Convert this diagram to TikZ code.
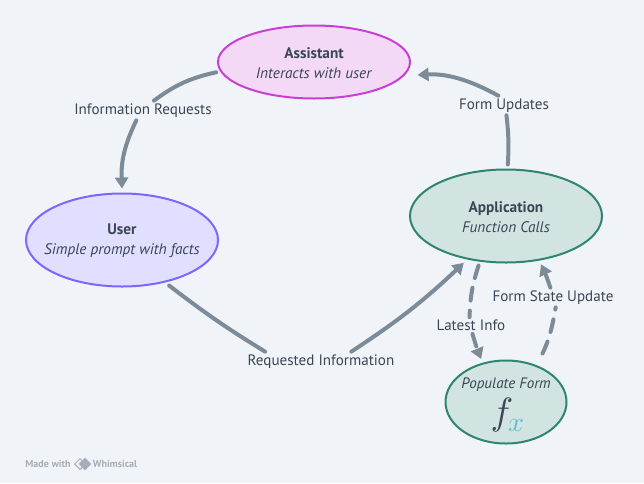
\documentclass[tikz,border=0pt]{standalone}
\usepackage{fontspec}
\setmainfont{PT Sans}
\usepackage{tikz}
\usetikzlibrary{arrows.meta}
\usetikzlibrary{shapes.geometric}
\usepackage{xcolor}
\definecolor{ColBack}{RGB}{240,244,248}
\definecolor{ColText}{RGB}{58,70,83}
\definecolor{ColLine}{RGB}{125,139,153}
\definecolor{ColA}{RGB}{201,63,214}
\definecolor{ColAFill}{RGB}{243,217,245}
\definecolor{ColU}{RGB}{124,102,255}
\definecolor{ColUFill}{RGB}{224,223,255}
\definecolor{ColG}{RGB}{46,133,112}
\definecolor{ColGFill}{RGB}{210,228,226}
\definecolor{ColX}{RGB}{91,192,213}
\definecolor{ColMark}{RGB}{165,174,184}
\newcommand{\TwoLines}[2]{\rule{0pt}{13pt}\makebox[0pt]{\textbf{#1}}\\\makebox[0pt]{\textit{#2}}}
\tikzstyle{NodeEll}=[ellipse,line width=2pt,inner sep=0pt,outer sep=5pt,align=center,
text=ColText,font=\fontsize{15.3}{20}\selectfont]
\tikzstyle{NodeLabel}=[text=ColText,font=\fontsize{15.1}{16}\selectfont,inner sep=3pt,outer sep=0pt]
\tikzstyle{NodeMark}=[text=ColMark,font=\fontsize{10.1}{10}\selectfont\bfseries,inner sep=0pt]
\tikzstyle{EdgeFlow}=[ColLine,line width=4pt,line cap=round]
\tikzstyle{EdgeTip}=[-{Triangle[length=11pt,width=13pt]}]
\tikzstyle{EdgeDash}=[dash pattern=on 13pt off 10pt]

\begin{document}
\begin{tikzpicture}[x=1pt,y=-1pt]
        \fill[ColBack](0,0)rectangle(644,483);
        \useasboundingbox(0,0)rectangle(644,483);
        \node[NodeEll,draw=ColA,fill=ColAFill,minimum width=192pt,minimum height=73pt](assistant)at(314,62)
            {\TwoLines{Assistant}{Interacts with user}};
        \node[NodeEll,draw=ColU,fill=ColUFill,minimum width=192pt,minimum height=93pt](user)at(122,240)
            {\TwoLines{User}{Simple prompt with facts}};
        \node[NodeEll,draw=ColG,fill=ColGFill,minimum width=192pt,minimum height=93pt](application)at(506,216)
            {\TwoLines{Application}{Function Calls}};
        \node[NodeEll,draw=ColG,fill=ColGFill,minimum width=121pt,minimum height=83pt](populate)at(506,402){};
        \node[NodeLabel,font=\fontsize{15.1}{16}\selectfont\itshape](populatetext)at(506,385){Populate Form};
        \node[inner sep=0pt,text=ColText,scale=3.8](fxf)at(502,415){$f$};
        \node[inner sep=0pt,text=ColX,scale=2.8](fxx)at(516,425){$x$};
        \node[NodeLabel](inforeq)at(143,110.5){Information Requests};
        \node[NodeLabel](formupd)at(504,105.5){Form Updates};
        \node[NodeLabel](reqinfo)at(321,361.5){Requested Information};
        \node[NodeLabel](latest)at(471,325.5){Latest Info};
        \node[NodeLabel](formstate)at(553,297.5){Form State Update};
        \draw[EdgeFlow](assistant.186)to[bend right=12](inforeq.42);
        \draw[EdgeFlow,EdgeTip](inforeq.-124)to[bend right=14](user.90);
        \draw[EdgeFlow](user.-44)to[bend right=3](reqinfo.170);
        \draw[EdgeFlow,EdgeTip](reqinfo.18)to[bend right=5](application.228);
        \draw[EdgeFlow](application.88)to[bend right=5](formupd.-76);
        \draw[EdgeFlow,EdgeTip,shorten >=8pt](formupd.120)to[bend right=16](assistant.-8);
        \draw[EdgeFlow,EdgeDash](application.241)to[bend right=8](latest.100);
        \draw[EdgeFlow,EdgeDash,EdgeTip](latest.-80)to[bend right=3](populate.120);
        \draw[EdgeFlow,EdgeDash,shorten <=9pt](populate.51)to[bend right=8](formstate.-75);
        \draw[EdgeFlow,EdgeDash,EdgeTip](formstate.105)to[bend right=3](application.-54);
        % footer mark
        \node[NodeMark](madewith)at(48,464){Made with};
        \node[diamond,draw=ColMark,line width=1pt,inner sep=0pt,minimum size=11pt](markback)at(80,464){};
        \node[diamond,fill=ColMark,inner sep=0pt,minimum size=13pt](markfront)at(85,464){};
        \node[NodeMark](whimsical)at(115,464){Whimsical};
    \end{tikzpicture}
\end{document}
